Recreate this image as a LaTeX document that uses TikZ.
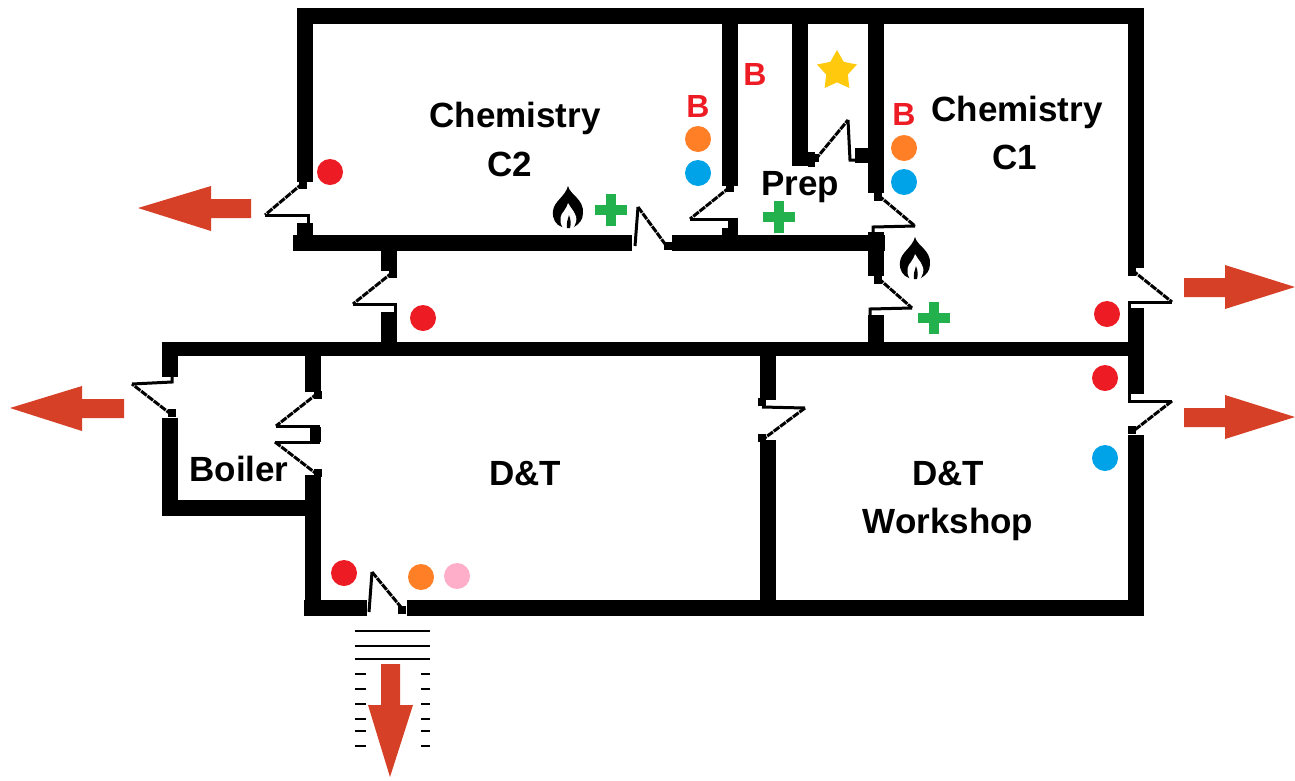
\documentclass[tikz,border=0pt]{standalone}
\usepackage{fontspec}
\setmainfont{Liberation Sans}
\usetikzlibrary{shapes.geometric}
\definecolor{exitred}{HTML}{D64027}
\definecolor{dotred}{HTML}{ED1C24}
\definecolor{dotorange}{HTML}{FF7F27}
\definecolor{dotblue}{HTML}{00A2E8}
\definecolor{dotpink}{HTML}{FFAEC9}
\definecolor{crossgreen}{HTML}{22B14C}
\definecolor{staryellow}{HTML}{FFC90E}
\begin{document}
\begin{tikzpicture}[line cap=butt,line join=miter,x=1pt,y=-1pt,
  wall/.style={line width=16pt},
  thinwall/.style={line width=14pt},
  doorline/.style={line width=3pt},
  doorleaf/.style={line width=3pt,dash pattern=on 7pt off 1pt},
  exitarrow/.style={fill=exitred,draw=none},
  stairline/.style={line width=1.8pt},
  spot/.style={circle,minimum size=26pt,inner sep=0pt,fill=#1},
  roomlabel/.style={font=\fontsize{35}{40}\selectfont\bfseries,inner sep=0pt},
  blabel/.style={font=\fontsize{32}{40}\selectfont\bfseries,text=dotred,inner sep=0pt},
  plus/.pic={\draw[crossgreen,line width=10pt] (-16,0)-- (16,0) (0,-16)-- (0,16);},
  flame/.pic={\fill[black] (0,-21) .. controls (2,-12) and (16,-8) .. (15,6) .. controls (15,13) and (11,17) .. (6,20) -- (-6,20) .. controls (-12,18) and (-16,12) .. (-15,4) .. controls (-14,-6) and (-3,-10) .. (0,-21) -- cycle;
  \fill[white] (-5,21) .. controls (-10,13) and (-7,7) .. (-4,4) .. controls (-3,2) and (-1,0) .. (0,-4) .. controls (3,2) and (10,7) .. (8,15) .. controls (7,18) and (6,20) .. (5,21) -- cycle;
  \fill[black] (-1,21) .. controls (-2,16) and (0,12) .. (1,8) .. controls (3,13) and (3,17) .. (2,21) -- cycle;}]
\useasboundingbox (0,0) rectangle (1295,780);
\draw [wall] (297,16)-- (1144,16);
\draw [wall] (305,8)-- (305,182);
\draw [wall] (305,223)-- (305,236);
\draw [wall] (293,243)-- (632,243);
\draw [wall] (672,243)-- (885,243);
\draw [wall] (730,8)-- (730,186);
\draw [wall] (730,228)-- (730,236);
\draw [line width=10pt] (733,218)-- (733,229);
\draw [wall] (800,8)-- (800,166);
\draw [wall] (876,8)-- (876,193);
\draw [line width=15pt] (855,155.5)-- (868,155.5);
\draw [line width=15pt] (808,159)-- (815,159);
\draw [wall] (876,232)-- (876,276);
\draw [wall] (876,315)-- (876,343);
\draw [wall] (389,251)-- (389,271);
\draw [wall] (389,312)-- (389,343);
\draw [thinwall] (162,349)-- (1144,349);
\draw [wall] (170,342)-- (170,377);
\draw [wall] (170,418)-- (170,516);
\draw [wall] (162,508)-- (321,508);
\draw [wall] (313,356)-- (313,392);
\draw [line width=11pt] (315.5,427)-- (315.5,442);
\draw [wall] (313,475)-- (313,616);
\draw [wall] (304,608)-- (367,608);
\draw [wall] (407,608)-- (1144,608);
\draw [wall] (768,356)-- (768,400);
\draw [wall] (768,440)-- (768,600);
\draw [wall] (1135.5,8)-- (1135.5,268);
\draw [wall] (1135.5,308)-- (1135.5,394);
\draw [wall] (1135.5,435)-- (1135.5,616);
\foreach \hx/\hy in {303/185,730/188,815/158,878/197,878/280,393/274,172/413,318/395,318/473,402/610,668/246,1132/272,1132/430,762/402,762/438}
  \fill (\hx-4,\hy-4) rectangle (\hx+4,\hy+4);
\draw [doorleaf] (303,183)-- (265,215);
\draw [doorline] (265,215)-- (308,215)-- (308,224);
\draw [doorleaf] (638,207)-- (668,248);
\draw [doorline] (638,207)-- (635,246);
\draw [doorleaf] (730,187)-- (690,219);
\draw [doorline] (690,219)-- (733,219);
\draw [doorleaf] (815,160)-- (848,120);
\draw [doorline] (848,120)-- (850,160)-- (856,160);
\draw [doorleaf] (878,195)-- (915,226);
\draw [doorline] (915,226)-- (873,227)-- (873,234);
\draw [doorleaf] (878,278)-- (912,308);
\draw [doorline] (912,308)-- (870,309)-- (870,318);
\draw [doorleaf] (393,272)-- (353,304);
\draw [doorline] (353,304)-- (395,304)-- (395,314);
\draw [doorleaf] (172,415)-- (132,384);
\draw [doorline] (132,384)-- (172,382)-- (172,376);
\draw [doorleaf] (318,393)-- (276,426);
\draw [doorline] (276,426)-- (320,426);
\draw [doorline] (275,442)-- (320,442);
\draw [doorleaf] (275,442)-- (318,475);
\draw [doorleaf] (372,572)-- (405,612);
\draw [doorline] (372,572)-- (369,612);
\draw [doorline] (762,407)-- (805,408);
\draw [doorleaf] (805,408)-- (762,440);
\draw [doorleaf] (1132,270)-- (1172,302);
\draw [doorline] (1172,302)-- (1129,302)-- (1129,310);
\draw [doorline] (1129,392)-- (1129,401)-- (1172,401);
\draw [doorleaf] (1172,401)-- (1132,432);
\draw [exitarrow] (138,208)-- (211,186)-- (211,199)-- (251,199)-- (251,218)-- (211,218)-- (211,231)-- cycle;
\draw [exitarrow] (10,408)-- (82,386)-- (82,399)-- (124,399)-- (124,418)-- (82,418)-- (82,431)-- cycle;
\draw [exitarrow] (1295,287)-- (1225,265)-- (1225,278)-- (1184,278)-- (1184,297)-- (1225,297)-- (1225,309)-- cycle;
\draw [exitarrow] (1295,417)-- (1225,395)-- (1225,408)-- (1184,408)-- (1184,427)-- (1225,427)-- (1225,439)-- cycle;
\draw [exitarrow] (390,777)-- (368,705)-- (381,705)-- (381,664)-- (400,664)-- (400,705)-- (413,705)-- cycle;
\foreach \y in {631,646,659}
  \draw [stairline] (355,\y)-- (430,\y);
\foreach \y in {674,689,704,719,731,746} {
  \draw [stairline] (355,\y)-- (366,\y);
  \draw [stairline] (421,\y)-- (430,\y);
}
\node [spot=dotred] (redctwo) at (330,172) {};
\node [spot=dotred] (redhall) at (423,318) {};
\node [spot=dotred] (redcone) at (1107,314) {};
\node [spot=dotred] (redshop) at (1105,378) {};
\node [spot=dotred] (reddt) at (344,573) {};
\node [spot=dotorange] (orangectwo) at (698,139) {};
\node [spot=dotorange] (orangecone) at (904,148) {};
\node [spot=dotorange] (orangedt) at (421,577) {};
\node [spot=dotblue] (bluectwo) at (698,173) {};
\node [spot=dotblue] (bluecone) at (904,182) {};
\node [spot=dotblue] (blueshop) at (1105,458) {};
\node [spot=dotpink] (pinkdt) at (457,576) {};
\pic at (611,210) {plus};
\pic at (779,217) {plus};
\pic at (934,318) {plus};
\pic at (568,207) {flame};
\pic at (915,258) {flame};
\node [star,star points=5,star point ratio=1.85,minimum size=42pt,inner sep=0pt,fill=staryellow] (starprep) at (837,71) {};
\node [blabel] (bctwo) at (698,106) {B};
\node [blabel] (bprep) at (755,74) {B};
\node [blabel] (bcone) at (904,114) {B};
\node [roomlabel] (chemctwo) at (515,118) {Chemistry};
\node [roomlabel] (ctwo) at (510,164) {C2};
\node [roomlabel] (chemcone) at (1017,112) {Chemistry};
\node [roomlabel] (cone) at (1015,157) {C1};
\node [roomlabel] (prep) at (800,187) {Prep};
\node [roomlabel] (boiler) at (239,469) {Boiler};
\node [roomlabel] (dt) at (525,474) {D\&T};
\node [roomlabel] (dtshop) at (948,474) {D\&T};
\node [roomlabel] (workshop) at (948,524) {Workshop};
\end{tikzpicture}
\end{document}
